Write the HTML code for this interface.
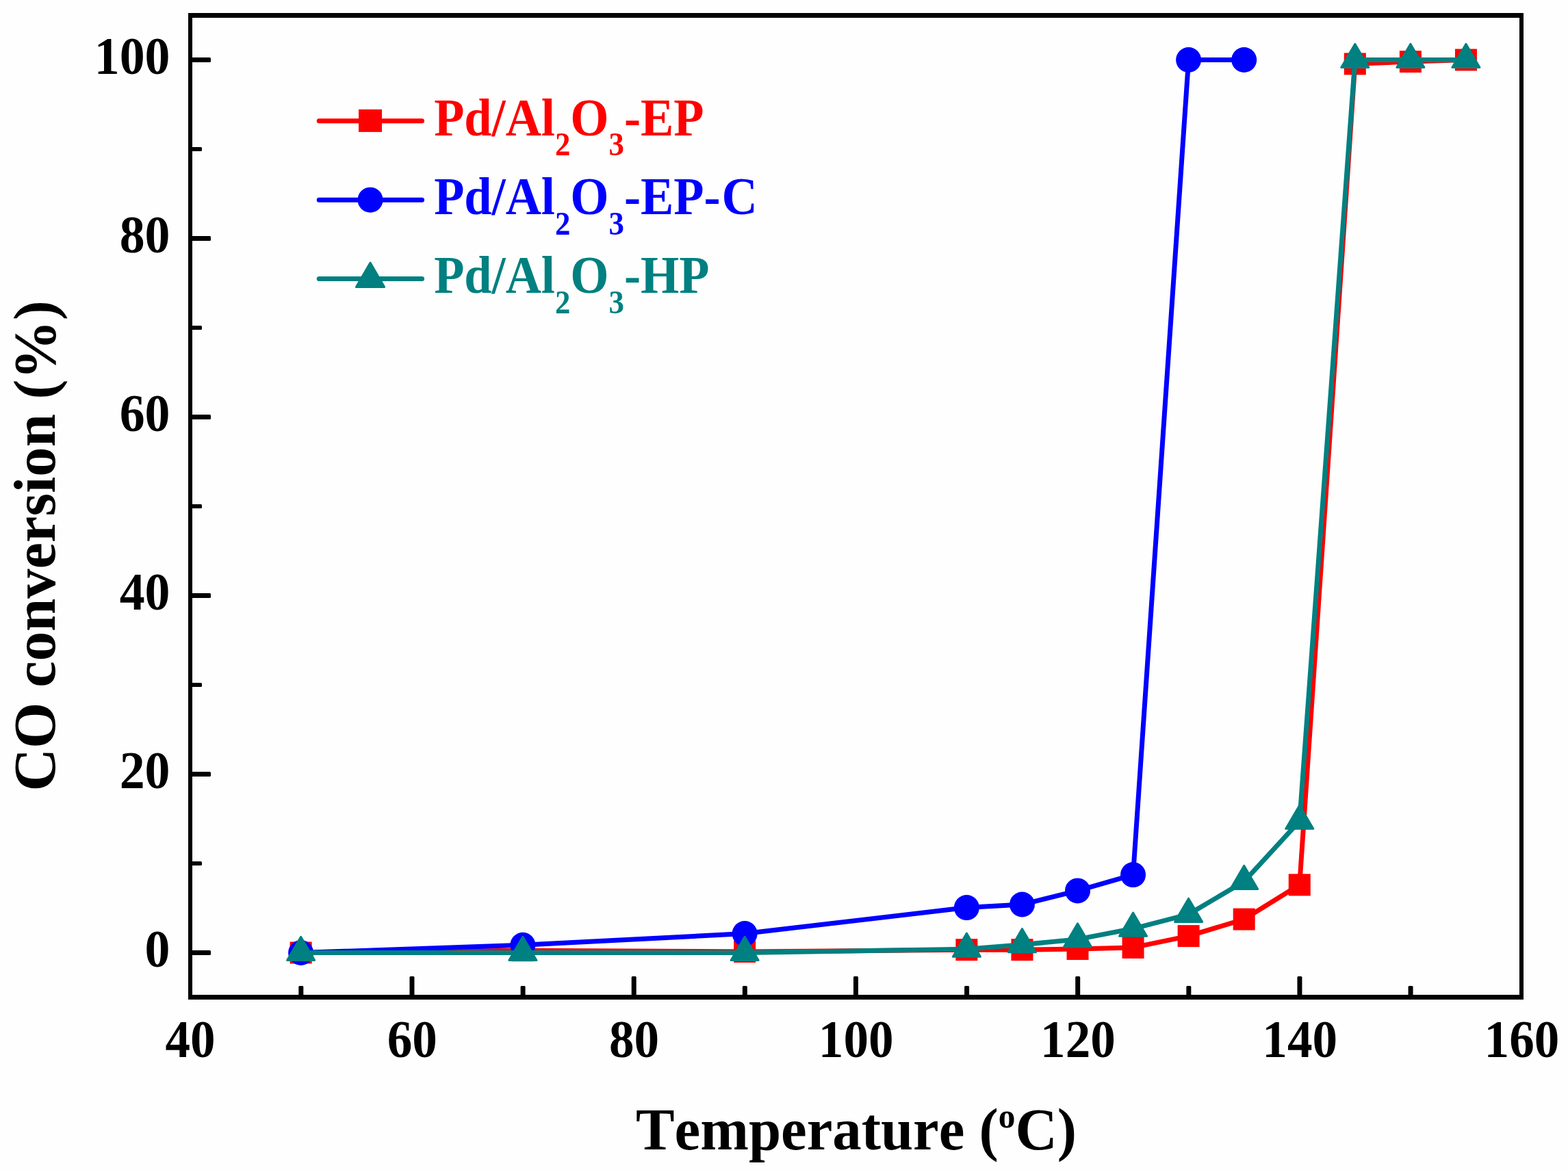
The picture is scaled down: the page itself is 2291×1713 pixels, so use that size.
<!DOCTYPE html>
<html lang="en">
<head>
<meta charset="utf-8">
<title>CO conversion vs Temperature</title>
<style>
html,body{margin:0;padding:0;background:#fefefe;}
body{width:2291px;height:1713px;overflow:hidden;}
svg{display:block;}
text{font-family:"Liberation Serif","Times New Roman",serif;font-weight:bold;font-kerning:none;font-variant-ligatures:none;}
.tk{font-size:75px;fill:#000;}
.tt{font-size:86px;fill:#000;}
.lg{font-size:75px;}
</style>
</head>
<body>
<svg width="2291" height="1713" viewBox="0 0 2291 1713">
<rect x="0" y="0" width="2291" height="1713" fill="#fefefe"/>
<g id="series-ep">
<polyline points="439.62,1392.5 763.88,1389.24 1088.12,1390.93 1412.38,1388.19 1493.44,1388.19 1574.5,1387.02 1655.56,1384.93 1736.62,1368.1 1817.69,1343.56 1898.75,1293.32 1979.81,93.37 2060.88,90.11 2141.94,87.5" fill="none" stroke="#ff0000" stroke-width="7" stroke-linejoin="round" stroke-linecap="round"/>
<rect x="423.62" y="1376.5" width="32" height="32" fill="#ff0000"/>
<rect x="747.88" y="1373.24" width="32" height="32" fill="#ff0000"/>
<rect x="1072.12" y="1374.93" width="32" height="32" fill="#ff0000"/>
<rect x="1396.38" y="1372.19" width="32" height="32" fill="#ff0000"/>
<rect x="1477.44" y="1372.19" width="32" height="32" fill="#ff0000"/>
<rect x="1558.5" y="1371.02" width="32" height="32" fill="#ff0000"/>
<rect x="1639.56" y="1368.93" width="32" height="32" fill="#ff0000"/>
<rect x="1720.62" y="1352.1" width="32" height="32" fill="#ff0000"/>
<rect x="1801.69" y="1327.56" width="32" height="32" fill="#ff0000"/>
<rect x="1882.75" y="1277.32" width="32" height="32" fill="#ff0000"/>
<rect x="1963.81" y="77.37" width="32" height="32" fill="#ff0000"/>
<rect x="2044.88" y="74.11" width="32" height="32" fill="#ff0000"/>
<rect x="2125.94" y="71.5" width="32" height="32" fill="#ff0000"/>
</g>
<g id="series-epc">
<polyline points="439.62,1392.5 763.88,1381.28 1088.12,1364.57 1412.38,1326.6 1493.44,1322.03 1574.5,1301.93 1655.56,1278.57 1736.62,87.5 1817.69,87.5" fill="none" stroke="#0000ff" stroke-width="7" stroke-linejoin="round" stroke-linecap="round"/>
<circle cx="439.62" cy="1392.5" r="18.5" fill="#0000ff"/>
<circle cx="763.88" cy="1381.28" r="18.5" fill="#0000ff"/>
<circle cx="1088.12" cy="1364.57" r="18.5" fill="#0000ff"/>
<circle cx="1412.38" cy="1326.6" r="18.5" fill="#0000ff"/>
<circle cx="1493.44" cy="1322.03" r="18.5" fill="#0000ff"/>
<circle cx="1574.5" cy="1301.93" r="18.5" fill="#0000ff"/>
<circle cx="1655.56" cy="1278.57" r="18.5" fill="#0000ff"/>
<circle cx="1736.62" cy="87.5" r="18.5" fill="#0000ff"/>
<circle cx="1817.69" cy="87.5" r="18.5" fill="#0000ff"/>
</g>
<g id="series-hp">
<polyline points="439.62,1392.5 763.88,1392.5 1088.12,1392.5 1412.38,1387.28 1493.44,1380.76 1574.5,1372.92 1655.56,1357.27 1736.62,1336.38 1817.69,1288.49 1898.75,1200.14 1979.81,87.5 2060.88,87.5 2141.94,87.5" fill="none" stroke="#008080" stroke-width="7" stroke-linejoin="round" stroke-linecap="round"/>
<polygon points="439.62,1369.3 459.62,1403.5 419.62,1403.5" fill="#008080" stroke="#008080" stroke-width="3" stroke-linejoin="round"/>
<polygon points="763.88,1369.3 783.88,1403.5 743.88,1403.5" fill="#008080" stroke="#008080" stroke-width="3" stroke-linejoin="round"/>
<polygon points="1088.12,1369.3 1108.12,1403.5 1068.12,1403.5" fill="#008080" stroke="#008080" stroke-width="3" stroke-linejoin="round"/>
<polygon points="1412.38,1364.08 1432.38,1398.28 1392.38,1398.28" fill="#008080" stroke="#008080" stroke-width="3" stroke-linejoin="round"/>
<polygon points="1493.44,1357.56 1513.44,1391.76 1473.44,1391.76" fill="#008080" stroke="#008080" stroke-width="3" stroke-linejoin="round"/>
<polygon points="1574.5,1349.72 1594.5,1383.92 1554.5,1383.92" fill="#008080" stroke="#008080" stroke-width="3" stroke-linejoin="round"/>
<polygon points="1655.56,1334.07 1675.56,1368.27 1635.56,1368.27" fill="#008080" stroke="#008080" stroke-width="3" stroke-linejoin="round"/>
<polygon points="1736.62,1313.18 1756.62,1347.38 1716.62,1347.38" fill="#008080" stroke="#008080" stroke-width="3" stroke-linejoin="round"/>
<polygon points="1817.69,1265.29 1837.69,1299.49 1797.69,1299.49" fill="#008080" stroke="#008080" stroke-width="3" stroke-linejoin="round"/>
<polygon points="1898.75,1176.94 1918.75,1211.14 1878.75,1211.14" fill="#008080" stroke="#008080" stroke-width="3" stroke-linejoin="round"/>
<polygon points="1979.81,64.3 1999.81,98.5 1959.81,98.5" fill="#008080" stroke="#008080" stroke-width="3" stroke-linejoin="round"/>
<polygon points="2060.88,64.3 2080.88,98.5 2040.88,98.5" fill="#008080" stroke="#008080" stroke-width="3" stroke-linejoin="round"/>
<polygon points="2141.94,64.3 2161.94,98.5 2121.94,98.5" fill="#008080" stroke="#008080" stroke-width="3" stroke-linejoin="round"/>
</g>
<g id="frame" fill="#000">
<rect x="275" y="19" width="1951" height="7"/>
<rect x="275" y="1454" width="1951" height="7"/>
<rect x="275" y="19" width="6" height="1442"/>
<rect x="2220" y="19" width="6" height="1442"/>
<rect x="278" y="1389" width="30" height="7" rx="1.5"/>
<rect x="278" y="1259" width="17" height="6" rx="1.5"/>
<rect x="278" y="1128" width="30" height="7" rx="1.5"/>
<rect x="278" y="998" width="17" height="6" rx="1.5"/>
<rect x="278" y="867" width="30" height="7" rx="1.5"/>
<rect x="278" y="737" width="17" height="6" rx="1.5"/>
<rect x="278" y="606" width="30" height="7" rx="1.5"/>
<rect x="278" y="476" width="17" height="6" rx="1.5"/>
<rect x="278" y="345" width="30" height="7" rx="1.5"/>
<rect x="278" y="215" width="17" height="6" rx="1.5"/>
<rect x="278" y="84" width="30" height="7" rx="1.5"/>
<rect x="436.32" y="1441" width="7" height="16" rx="1.5"/>
<rect x="598.45" y="1427" width="7" height="30" rx="1.5"/>
<rect x="760.58" y="1441" width="7" height="16" rx="1.5"/>
<rect x="922.7" y="1427" width="7" height="30" rx="1.5"/>
<rect x="1084.83" y="1441" width="7" height="16" rx="1.5"/>
<rect x="1246.95" y="1427" width="7" height="30" rx="1.5"/>
<rect x="1409.08" y="1441" width="7" height="16" rx="1.5"/>
<rect x="1571.2" y="1427" width="7" height="30" rx="1.5"/>
<rect x="1733.33" y="1441" width="7" height="16" rx="1.5"/>
<rect x="1895.45" y="1427" width="7" height="30" rx="1.5"/>
<rect x="2057.57" y="1441" width="7" height="16" rx="1.5"/>
</g>
<g id="ylabels" class="tk" text-anchor="end">
<text transform="translate(248.5,1413.2) scale(0.984,1.055)">0</text>
<text transform="translate(248.5,1152.2) scale(0.984,1.055)">20</text>
<text transform="translate(248.5,891.2) scale(0.984,1.055)">40</text>
<text transform="translate(248.5,630.2) scale(0.984,1.055)">60</text>
<text transform="translate(248.5,369.2) scale(0.984,1.055)">80</text>
<text transform="translate(248.5,108.2) scale(0.984,1.055)">100</text>
</g>
<g id="xlabels" class="tk" text-anchor="middle">
<text transform="translate(278,1544.6) scale(0.976,1.055)">40</text>
<text transform="translate(602.25,1544.6) scale(0.976,1.055)">60</text>
<text transform="translate(926.5,1544.6) scale(0.976,1.055)">80</text>
<text transform="translate(1250.75,1544.6) scale(0.976,1.055)">100</text>
<text transform="translate(1575,1544.6) scale(0.976,1.055)">120</text>
<text transform="translate(1899.25,1544.6) scale(0.976,1.055)">140</text>
<text transform="translate(2223.5,1544.6) scale(0.976,1.055)">160</text>
</g>
<text class="tt" text-anchor="middle" transform="translate(1251,1680) scale(0.986,1.01)">Temperature (<tspan font-size="50" dy="-32">o</tspan><tspan dy="32">C)</tspan></text>
<text class="tt" text-anchor="middle" transform="translate(79.6,797.8) rotate(-90) scale(1.008,1.01)">CO conversion (%)</text>
<g id="legend">
<line x1="466.2" y1="176.8" x2="616.5" y2="176.8" stroke="#ff0000" stroke-width="7" stroke-linecap="round"/>
<rect x="524" y="159.9" width="34" height="33" fill="#ff0000"/>
<text class="lg" transform="translate(634.2,197.6) scale(0.964,1.032)" fill="#ff0000">Pd/Al<tspan font-size="46.5" dy="28.5">2</tspan><tspan dy="-28.5">O</tspan><tspan font-size="46.5" dy="28.5">3</tspan><tspan dy="-28.5">-EP</tspan></text>
<line x1="466.2" y1="292.2" x2="616.5" y2="292.2" stroke="#0000ff" stroke-width="7" stroke-linecap="round"/>
<circle cx="541" cy="292.2" r="18.5" fill="#0000ff"/>
<text class="lg" transform="translate(634.2,313.3) scale(0.964,1.032)" fill="#0000ff">Pd/Al<tspan font-size="46.5" dy="28.5">2</tspan><tspan dy="-28.5">O</tspan><tspan font-size="46.5" dy="28.5">3</tspan><tspan dy="-28.5">-EP-<tspan dx="2">C</tspan></tspan></text>
<line x1="466.2" y1="407.4" x2="616.5" y2="407.4" stroke="#008080" stroke-width="7" stroke-linecap="round"/>
<polygon points="541,384.1 561.6,419.5 520.4,419.5" fill="#008080" stroke="#008080" stroke-width="3" stroke-linejoin="round"/>
<text class="lg" transform="translate(634.2,428.4) scale(0.964,1.032)" fill="#008080">Pd/Al<tspan font-size="46.5" dy="28.5">2</tspan><tspan dy="-28.5">O</tspan><tspan font-size="46.5" dy="28.5">3</tspan><tspan dy="-28.5">-HP</tspan></text>
</g>
</svg>
</body>
</html>
